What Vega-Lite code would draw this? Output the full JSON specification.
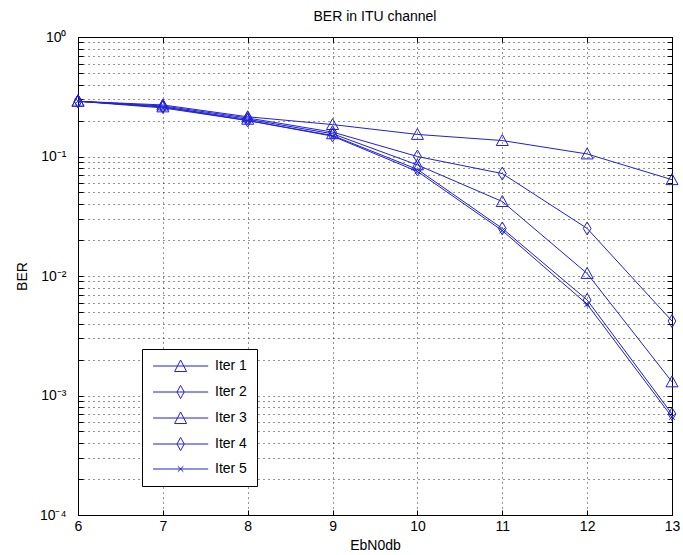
{
  "$schema": "https://vega.github.io/schema/vega-lite/v6.json",
  "autosize": {"type": "none"},
  "width": 594,
  "height": 478,
  "padding": {"left": 78, "top": 37, "right": 11, "bottom": 40},
  "background": "white",
  "title": {"text": "BER in ITU channel", "font": "Liberation Sans", "fontSize": 14, "fontWeight": "normal", "color": "#000", "offset": 6},
  "config": {"view": {"stroke": "#000", "strokeWidth": 1}},
  "data": {"values": [
    {"x": 6, "ber": 0.29, "series": "Iter 1"},
    {"x": 7, "ber": 0.27, "series": "Iter 1"},
    {"x": 8, "ber": 0.215, "series": "Iter 1"},
    {"x": 9, "ber": 0.185, "series": "Iter 1"},
    {"x": 10, "ber": 0.153, "series": "Iter 1"},
    {"x": 11, "ber": 0.136, "series": "Iter 1"},
    {"x": 12, "ber": 0.105, "series": "Iter 1"},
    {"x": 13, "ber": 0.064, "series": "Iter 1"},
    {"x": 6, "ber": 0.29, "series": "Iter 2"},
    {"x": 7, "ber": 0.265, "series": "Iter 2"},
    {"x": 8, "ber": 0.21, "series": "Iter 2"},
    {"x": 9, "ber": 0.16, "series": "Iter 2"},
    {"x": 10, "ber": 0.1, "series": "Iter 2"},
    {"x": 11, "ber": 0.072, "series": "Iter 2"},
    {"x": 12, "ber": 0.025, "series": "Iter 2"},
    {"x": 13, "ber": 0.0042, "series": "Iter 2"},
    {"x": 6, "ber": 0.29, "series": "Iter 3"},
    {"x": 7, "ber": 0.26, "series": "Iter 3"},
    {"x": 8, "ber": 0.205, "series": "Iter 3"},
    {"x": 9, "ber": 0.155, "series": "Iter 3"},
    {"x": 10, "ber": 0.085, "series": "Iter 3"},
    {"x": 11, "ber": 0.042, "series": "Iter 3"},
    {"x": 12, "ber": 0.0105, "series": "Iter 3"},
    {"x": 13, "ber": 0.0013, "series": "Iter 3"},
    {"x": 6, "ber": 0.29, "series": "Iter 4"},
    {"x": 7, "ber": 0.26, "series": "Iter 4"},
    {"x": 8, "ber": 0.2, "series": "Iter 4"},
    {"x": 9, "ber": 0.15, "series": "Iter 4"},
    {"x": 10, "ber": 0.078, "series": "Iter 4"},
    {"x": 11, "ber": 0.025, "series": "Iter 4"},
    {"x": 12, "ber": 0.0063, "series": "Iter 4"},
    {"x": 13, "ber": 0.0007, "series": "Iter 4"},
    {"x": 6, "ber": 0.29, "series": "Iter 5"},
    {"x": 7, "ber": 0.255, "series": "Iter 5"},
    {"x": 8, "ber": 0.2, "series": "Iter 5"},
    {"x": 9, "ber": 0.148, "series": "Iter 5"},
    {"x": 10, "ber": 0.075, "series": "Iter 5"},
    {"x": 11, "ber": 0.024, "series": "Iter 5"},
    {"x": 12, "ber": 0.0058, "series": "Iter 5"},
    {"x": 13, "ber": 0.00066, "series": "Iter 5"}
  ]},
  "layer": [
    {
      "mark": {"type": "line", "color": "#2020d8", "strokeWidth": 1},
      "encoding": {
        "x": {"field": "x", "type": "quantitative", "scale": {"domain": [6, 13], "nice": false, "zero": false},
          "axis": {"orient": "bottom", "values": [6, 7, 8, 9, 10, 11, 12, 13], "grid": true, "gridColor": "#000", "gridDash": [1, 4], "gridOpacity": 0.85,
            "tickSize": -5, "tickColor": "#000", "domain": false, "labelFlush": false, "labelFont": "Liberation Sans", "labelFontSize": 14, "labelColor": "#000", "labelPadding": 9,
            "title": "EbN0db", "titleFont": "Liberation Sans", "titleFontSize": 14, "titleFontWeight": "normal", "titleColor": "#000", "titlePadding": 5}},
        "y": {"field": "ber", "type": "quantitative", "scale": {"type": "log", "domain": [0.0001, 1], "nice": false},
          "axis": {"orient": "left", "values": [0.0001, 0.0002, 0.0003, 0.0004, 0.0005, 0.0006, 0.0007, 0.0008, 0.0009, 0.001, 0.002, 0.003, 0.004, 0.005, 0.006, 0.007, 0.008, 0.009, 0.01, 0.02, 0.03, 0.04, 0.05, 0.06, 0.07, 0.08, 0.09, 0.1, 0.2, 0.3, 0.4, 0.5, 0.6, 0.7, 0.8, 0.9, 1],
            "labelExpr": "datum.value == 1 ? '10⁰' : datum.value == 0.1 ? '10⁻¹' : datum.value == 0.01 ? '10⁻²' : datum.value == 0.001 ? '10⁻³' : datum.value == 0.0001 ? '10⁻⁴' : ''",
            "labelOverlap": false, "labelFlush": false, "grid": true, "gridColor": "#000", "gridDash": [1, 4], "gridOpacity": 0.85,
            "tickSize": -5, "tickColor": "#000", "domain": false, "labelFont": "Liberation Sans", "labelFontSize": 14, "labelColor": "#000", "labelPadding": 17,
            "title": "BER", "titleFont": "Liberation Sans", "titleFontSize": 14, "titleFontWeight": "normal", "titleColor": "#000", "titlePadding": 10}},
        "detail": {"field": "series", "type": "nominal"}
      }
    },
    {
      "mark": {"type": "point", "color": "#2020d8", "strokeWidth": 1, "filled": false, "size": 200, "opacity": 1},
      "encoding": {
        "x": {"field": "x", "type": "quantitative", "axis": null},
        "y": {"field": "ber", "type": "quantitative", "axis": null},
        "shape": {"field": "series", "type": "nominal", "legend": null,
          "scale": {"domain": ["Iter 1", "Iter 2", "Iter 3", "Iter 4", "Iter 5"],
            "range": ["M0,-0.85L0.85,0.7L-0.85,0.7Z", "M0,-0.92L0.55,0L0,0.92L-0.55,0Z", "M0,-0.85L0.85,0.7L-0.85,0.7Z", "M0,-0.92L0.55,0L0,0.92L-0.55,0Z", "M-0.4,-0.4L0.4,0.4M-0.4,0.4L0.4,-0.4"]}}
      }
    },
    {
      "mark": {"type": "point", "color": "#2020d8", "strokeWidth": 1, "filled": false, "opacity": 0},
      "encoding": {
        "x": {"field": "x", "type": "quantitative",
          "axis": {"orient": "top", "values": [6, 7, 8, 9, 10, 11, 12, 13], "labels": false, "grid": false, "domain": false, "tickSize": -5, "tickColor": "#000", "title": null}},
        "y": {"field": "ber", "type": "quantitative",
          "axis": {"orient": "right", "values": [0.0001, 0.0002, 0.0003, 0.0004, 0.0005, 0.0006, 0.0007, 0.0008, 0.0009, 0.001, 0.002, 0.003, 0.004, 0.005, 0.006, 0.007, 0.008, 0.009, 0.01, 0.02, 0.03, 0.04, 0.05, 0.06, 0.07, 0.08, 0.09, 0.1, 0.2, 0.3, 0.4, 0.5, 0.6, 0.7, 0.8, 0.9, 1],
            "labels": false, "grid": false, "domain": false, "tickSize": -5, "tickColor": "#000", "title": null}},
        "shape": {"field": "series", "type": "nominal",
          "scale": {"domain": ["Iter 1", "Iter 2", "Iter 3", "Iter 4", "Iter 5"],
            "range": ["M-1,0H8.2M3.6,-1L4.6,0.92L2.6,0.92Z", "M-1,0H8.2M3.6,-1.1L4.2,0L3.6,1.1L3,0Z", "M-1,0H8.2M3.6,-1L4.6,0.92L2.6,0.92Z", "M-1,0H8.2M3.6,-1.1L4.2,0L3.6,1.1L3,0Z", "M-1,0H8.2M3.14,-0.46L4.06,0.46M3.14,0.46L4.06,-0.46"]},
          "legend": {"orient": "none", "legendX": 64, "legendY": 312, "title": null, "fillColor": "white", "strokeColor": "#000", "padding": 10,
            "labelFont": "Liberation Sans", "labelFontSize": 14, "labelColor": "#000", "labelOffset": 49, "symbolSize": 144, "symbolStrokeColor": "#2020d8", "symbolStrokeWidth": 1, "symbolFillColor": "transparent", "symbolOpacity": 1, "rowPadding": 9}}
      }
    }
  ],
  "resolve": {"scale": {"shape": "independent"}, "axis": {"x": "independent", "y": "independent"}}
}
